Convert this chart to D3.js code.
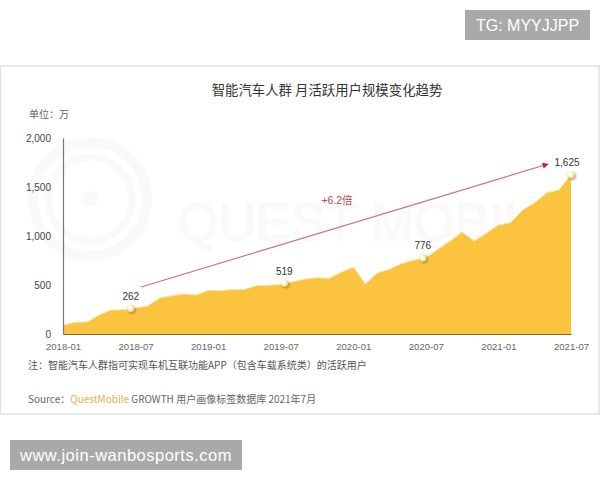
<!DOCTYPE html>
<html>
<head>
<meta charset="utf-8">
<script src="https://cdn.jsdelivr.net/npm/d3@7"></script>
<style>
  html, body { margin: 0; padding: 0; background: #fff; }
  svg { display: block; }
  text { font-family: "Liberation Sans", "Noto Sans CJK SC", sans-serif; }
  .cjk { font-family: "Noto Sans CJK SC", "Liberation Sans", sans-serif; }
</style>
</head>
<body>
<script>
// months since 2018-01, value in 万
const months = d3.range(0, 43);
const users = [
  90, 120, 122, 195, 245, 248, 265, 285, 367, 390,
  408, 398, 445, 442, 455, 455, 493, 497, 505, 533,
  560, 575, 568, 630, 683, 510, 625, 660, 720, 755,
  778, 864, 948, 1040, 948, 1027, 1112, 1135, 1265, 1340,
  1441, 1469, 1625
];

const tickMonths = [0, 6, 12, 18, 24, 30, 36, 42];
const tickLabels = ["2018-01", "2018-07", "2019-01", "2019-07", "2020-01", "2020-07", "2021-01", "2021-07"];
const yTicks = [0, 500, 1000, 1500, 2000];

const calloutMonths = [5.6, 18.3, 29.75, 42];
const calloutValues = [262, 519, 776, 1625];

const arrowMonths = [6.45, 40.1];
const arrowValues = [479, 1734];

const width = 600;
const height = 480;
const plot = { left: 63, right: 571, top: 138, bottom: 334 };

const svg = d3.select("body").append("svg")
  .attr("width", width)
  .attr("height", height);

const x = d3.scaleLinear().domain([0, 42]).range([plot.left, plot.right]);
const y = d3.scaleLinear().domain([0, 2000]).range([plot.bottom, plot.top]);

const defs = svg.append("defs");
const ball = defs.append("radialGradient").attr("id", "ball").attr("cx", "40%").attr("cy", "40%");
ball.append("stop").attr("offset", "45%").attr("stop-color", "#fffef2");
ball.append("stop").attr("offset", "100%").attr("stop-color", "#f1df8c");
const shadow = defs.append("filter").attr("id", "soft");
shadow.append("feGaussianBlur").attr("stdDeviation", 0.9);
defs.append("marker")
  .attr("id", "head")
  .attr("viewBox", "0 0 10 10")
  .attr("refX", 9).attr("refY", 5)
  .attr("markerUnits", "userSpaceOnUse")
  .attr("markerWidth", 7).attr("markerHeight", 6)
  .attr("orient", "auto")
  .append("path")
  .attr("d", "M0,0L10,5L0,10Z")
  .attr("fill", "#c41f2b");

// Card
svg.append("rect")
  .attr("x", 0.5).attr("y", 66)
  .attr("width", 598.5).attr("height", 348)
  .attr("fill", "#fff")
  .attr("stroke", "#e2e2e2")
  .attr("stroke-width", 1.5);

// Watermark
const wm = svg.append("g").attr("fill", "none").attr("stroke", "#f9f9f9");
wm.append("circle").attr("cx", 90).attr("cy", 199).attr("r", 57).attr("stroke-width", 10);
wm.append("circle").attr("cx", 90).attr("cy", 199).attr("r", 42).attr("stroke-width", 7);
wm.append("circle").attr("cx", 90).attr("cy", 199).attr("r", 8).attr("fill", "#f9f9f9").attr("stroke", "none");
svg.append("text")
  .attr("x", 178).attr("y", 240)
  .attr("font-size", 52)
  .attr("fill", "#f9f9f9")
  .attr("stroke", "#f9f9f9")
  .attr("stroke-width", 2)
  .text("QUEST MOBILE");

// Title and unit
svg.append("text")
  .attr("class", "cjk")
  .attr("x", 327).attr("y", 95)
  .attr("text-anchor", "middle")
  .attr("font-size", 13.4)
  .attr("fill", "#333")
  .text("智能汽车人群 月活跃用户规模变化趋势");

svg.append("text")
  .attr("class", "cjk")
  .attr("x", 29).attr("y", 118)
  .attr("font-size", 10)
  .attr("fill", "#666")
  .text("单位：万");

// Area
const area = d3.area()
  .x((d, i) => x(months[i]))
  .y0(y(0))
  .y1(d => y(d));

svg.append("path")
  .datum(users)
  .attr("d", area)
  .attr("fill", "#fcc33e");

svg.append("path")
  .datum(users)
  .attr("d", d3.line().x((d, i) => x(months[i])).y(d => y(d)))
  .attr("fill", "none")
  .attr("stroke", "#fde3a6")
  .attr("stroke-width", 1);

// Axes
const yAxis = svg.append("g")
  .attr("transform", `translate(${plot.left},0)`)
  .call(d3.axisLeft(y).tickValues(yTicks).tickSize(0).tickPadding(12).tickFormat(d3.format(",")));
yAxis.select(".domain").attr("stroke", "#777").attr("stroke-width", 1.2);
yAxis.selectAll("text").attr("font-size", 10).attr("fill", "#444").style("font-family", "Liberation Sans");

const xAxis = svg.append("g")
  .attr("transform", `translate(0,${plot.bottom})`)
  .call(d3.axisBottom(x).tickValues(tickMonths).tickSize(0).tickPadding(9).tickFormat((d, i) => tickLabels[i]));
xAxis.select(".domain").attr("stroke", "#7a6a3c").attr("stroke-width", 1.2);
xAxis.selectAll("text").attr("font-size", 9.6).attr("fill", "#666").style("font-family", "Liberation Sans");

// Growth arrow
svg.append("line")
  .attr("x1", x(arrowMonths[0])).attr("y1", y(arrowValues[0]))
  .attr("x2", x(arrowMonths[1])).attr("y2", y(arrowValues[1]))
  .attr("stroke", "#c9707c")
  .attr("stroke-width", 1.1)
  .attr("marker-end", "url(#head)");

svg.append("text")
  .attr("x", 337).attr("y", 204)
  .attr("text-anchor", "middle")
  .attr("font-size", 10.5)
  .attr("fill", "#c2474f")
  .text("+6.2倍");

// Callouts
const callouts = svg.selectAll(".callout")
  .data(calloutValues)
  .enter().append("g")
  .attr("class", "callout")
  .attr("transform", (d, i) => `translate(${x(calloutMonths[i])},${y(d)})`);

callouts.append("circle")
  .attr("cx", 1.2).attr("cy", 1.4).attr("r", 3.8)
  .attr("fill", "#7a5a20")
  .attr("opacity", 0.55)
  .attr("filter", "url(#soft)");
callouts.append("circle")
  .attr("r", 3.7)
  .attr("fill", "url(#ball)");

callouts.append("text")
  .attr("x", (d, i) => i === 3 ? -4 : 0)
  .attr("y", -8.5)
  .attr("text-anchor", "middle")
  .attr("font-size", 10)
  .attr("fill", "#333")
  .text(d => d3.format(",")(d));

// Footnotes
svg.append("text")
  .attr("class", "cjk")
  .attr("x", 28).attr("y", 369)
  .attr("font-size", 10)
  .attr("fill", "#555")
  .text("注：智能汽车人群指可实现车机互联功能APP（包含车载系统类）的活跃用户");

const source = svg.append("text")
  .attr("class", "cjk")
  .attr("x", 28).attr("y", 403)
  .attr("font-size", 10)
  .attr("fill", "#666");
source.append("tspan").text("Source：");
source.append("tspan").attr("fill", "#e3b04b").text("QuestMobile");
source.append("tspan").text(" GROWTH 用户画像标签数据库 2021年7月");

// Corner badges
svg.append("rect").attr("x", 465).attr("y", 10).attr("width", 125).attr("height", 30).attr("fill", "#a9a9a9");
svg.append("text")
  .attr("x", 527.5).attr("y", 31)
  .attr("text-anchor", "middle")
  .attr("font-size", 16)
  .attr("fill", "#fff")
  .text("TG: MYYJJPP");

svg.append("rect").attr("x", 10).attr("y", 440).attr("width", 232).attr("height", 30).attr("fill", "#a9a9a9");
svg.append("text")
  .attr("x", 126).attr("y", 461)
  .attr("text-anchor", "middle")
  .attr("font-size", 16.5)
  .attr("letter-spacing", 0.5)
  .attr("fill", "#fff")
  .text("www.join-wanbosports.com");
</script>
</body>
</html>
